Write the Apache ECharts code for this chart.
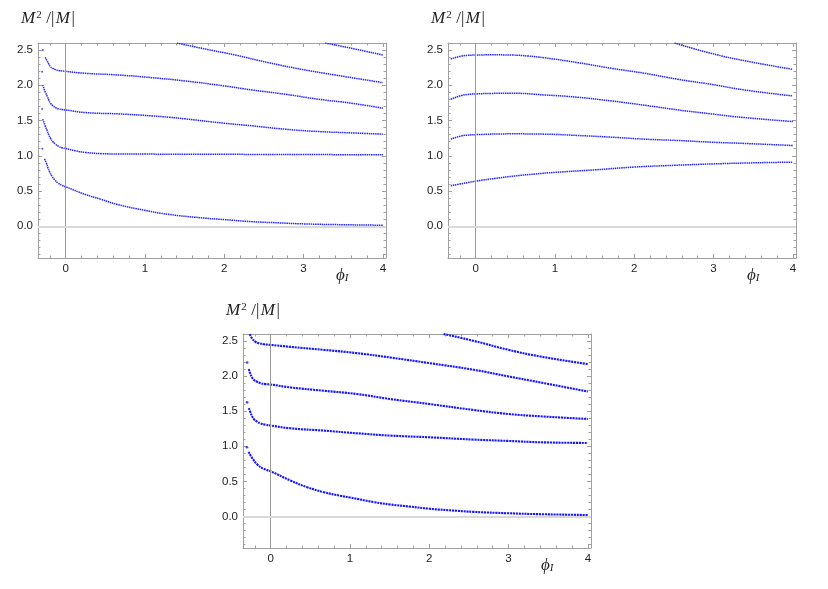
<!DOCTYPE html>
<html>
<head>
<meta charset="utf-8">
<script src="https://cdn.jsdelivr.net/npm/echarts@6/dist/echarts.min.js"></script>
<style>html,body{margin:0;padding:0;background:#fff}#c{width:828px;height:589px}</style>
</head>
<body>
<div id="c"></div>
<script>
// ---- tick values ----
const majorX = [0, 1, 2, 3, 4];
const minorX = [-0.2, 0.2, 0.4, 0.6, 0.8, 1.2, 1.4, 1.6, 1.8, 2.2, 2.4, 2.6, 2.8, 3.2, 3.4, 3.6, 3.8];
const majorY = [0, 0.5, 1.0, 1.5, 2.0, 2.5];
const minorY = [-0.4, -0.3, -0.2, -0.1, 0.1, 0.2, 0.3, 0.4, 0.6, 0.7, 0.8, 0.9, 1.1, 1.2, 1.3, 1.4, 1.6, 1.7, 1.8, 1.9, 2.1, 2.2, 2.3, 2.4];

// ---- panel 1 (top left) ----
const p1c1 = [[-0.294,1.10],[-0.269,0.958],[-0.244,0.896],[-0.223,0.825],[-0.202,0.769],[-0.172,0.708],[-0.139,0.66],[-0.097,0.613],[-0.046,0.58],[0,0.56],[0.25,0.45],[0.44,0.385],[0.65,0.31],[1.0,0.226],[1.29,0.17],[1.71,0.12],[2.0,0.095],[2.34,0.066],[2.7,0.048],[3.0,0.034],[3.5,0.022],[4.0,0.015]];
const p1c2 = [[-0.298,1.665],[-0.29,1.519],[-0.256,1.415],[-0.235,1.358],[-0.214,1.297],[-0.193,1.25],[-0.164,1.203],[-0.13,1.165],[-0.088,1.132],[-0.046,1.113],[0,1.104],[0.122,1.071],[0.248,1.047],[0.458,1.03],[0.668,1.025],[1.0,1.024],[1.5,1.022],[2.0,1.021],[2.5,1.019],[3.0,1.018],[3.5,1.016],[4.0,1.015]];
const p1c3 = [[-0.298,2.193],[-0.29,2.005],[-0.256,1.896],[-0.231,1.84],[-0.214,1.792],[-0.193,1.745],[-0.164,1.712],[-0.13,1.684],[-0.088,1.665],[-0.046,1.656],[0,1.65],[0.248,1.613],[0.668,1.594],[1.088,1.566],[1.298,1.547],[1.508,1.524],[2.0,1.462],[2.349,1.425],[2.769,1.377],[3.189,1.344],[3.609,1.325],[4.0,1.307]];
const p1c4 = [[-0.29,2.50],[-0.261,2.396],[-0.231,2.34],[-0.214,2.302],[-0.193,2.264],[-0.164,2.241],[-0.13,2.222],[-0.088,2.21],[-0.046,2.203],[0,2.198],[0.248,2.17],[0.668,2.146],[1.088,2.108],[1.508,2.061],[2.0,1.991],[2.349,1.934],[2.769,1.873],[3.189,1.802],[3.609,1.745],[4.0,1.675]];
const p1c5 = [[1.403,2.6],[1.718,2.524],[2.139,2.429],[2.559,2.321],[2.979,2.226],[3.399,2.146],[4.0,2.038]];
const p1c6 = [[3.273,2.6],[3.609,2.524],[4.0,2.43]];

// ---- panel 2 (top right) ----
const p2c1 = [[-0.315,0.575],[-0.2,0.60],[-0.1,0.62],[0,0.64],[0.25,0.68],[0.5,0.715],[0.75,0.742],[1.0,0.765],[1.5,0.80],[2.0,0.84],[2.5,0.865],[3.0,0.885],[3.5,0.90],[4.0,0.91]];
const p2c2 = [[-0.315,1.236],[-0.181,1.282],[-0.1,1.293],[0,1.30],[0.45,1.311],[0.87,1.307],[1.29,1.288],[1.71,1.264],[2.13,1.236],[2.55,1.217],[2.97,1.193],[3.39,1.175],[4.0,1.146]];
const p2c3 = [[-0.315,1.802],[-0.181,1.855],[-0.1,1.87],[0,1.877],[0.2,1.885],[0.45,1.887],[0.87,1.863],[1.29,1.83],[1.71,1.778],[2.13,1.717],[2.55,1.651],[2.97,1.594],[3.39,1.542],[4.0,1.486]];
const p2c4 = [[-0.315,2.373],[-0.181,2.415],[-0.1,2.425],[0,2.429],[0.2,2.432],[0.45,2.429],[0.66,2.415],[0.87,2.39],[1.29,2.321],[1.71,2.241],[2.13,2.17],[2.55,2.085],[2.97,2.014],[3.39,1.934],[4.0,1.849]];
const p2c5 = [[2.508,2.6],[2.97,2.453],[3.39,2.349],[4.0,2.226]];

// ---- panel 3 (bottom) ----
const p3c1 = [[-0.30,0.985],[-0.28,0.92],[-0.235,0.835],[-0.17,0.74],[-0.09,0.68],[0,0.643],[0.248,0.512],[0.458,0.417],[0.668,0.346],[0.878,0.295],[1.0,0.27],[1.298,0.205],[1.508,0.17],[1.76,0.14],[2.0,0.11],[2.35,0.08],[2.56,0.065],[3.0,0.045],[3.4,0.032],[4.0,0.02]];
const p3c2 = [[-0.298,1.626],[-0.277,1.545],[-0.256,1.483],[-0.235,1.427],[-0.214,1.389],[-0.172,1.351],[-0.13,1.327],[-0.067,1.308],[0,1.296],[0.248,1.256],[0.668,1.223],[1.088,1.185],[1.508,1.152],[2.0,1.128],[2.56,1.095],[3.0,1.076],[3.4,1.057],[4.0,1.047]];
const p3c3 = [[-0.298,2.194],[-0.277,2.10],[-0.256,2.028],[-0.235,1.981],[-0.214,1.948],[-0.172,1.919],[-0.13,1.90],[-0.067,1.886],[0,1.88],[0.248,1.839],[0.668,1.791],[1.088,1.744],[1.508,1.673],[2.0,1.602],[2.56,1.517],[3.0,1.46],[3.4,1.427],[4.0,1.389]];
const p3c4 = [[-0.265,2.597],[-0.235,2.536],[-0.193,2.488],[-0.151,2.469],[-0.088,2.455],[0,2.445],[0.248,2.417],[0.668,2.374],[1.088,2.327],[1.508,2.265],[2.0,2.185],[2.56,2.09],[3.0,1.995],[3.4,1.91],[4.0,1.78]];
const p3c5 = [[2.18,2.6],[2.56,2.502],[3.0,2.374],[3.4,2.28],[4.0,2.171]];

const panels = [
  [p1c1, p1c2, p1c3, p1c4, p1c5, p1c6],
  [p2c1, p2c2, p2c3, p2c4, p2c5],
  [p3c1, p3c2, p3c3, p3c4, p3c5]
];
// curves whose first sample sits apart from the rest (drawn as a lone dot)
const loneFirst = [
  [true, true, true, true, false, false],
  [false, false, false, false, false],
  [true, true, true, false, false]
];

const XMIN = -0.35, XMAX = 4.04, YMIN = -0.45, YMAX = 2.6;
const FRAME = '#a0a0a0';
const grids = [
  {left: 38, top: 43, width: 348, height: 215},
  {left: 448, top: 43, width: 348, height: 215},
  {left: 243, top: 334, width: 348, height: 214}
];
const curveStyles = [
  {width: 1.5, type: [1.5, 0.7], color: 'rgba(20,20,255,0.92)'},
  {width: 1.5, type: [1.5, 0.7], color: 'rgba(20,20,255,0.92)'},
  {width: 2.1, type: [2.1, 0.8], color: 'rgba(10,10,255,0.95)'}
];
const dotSizes = [2, 2, 2.6];

const xAxes = [], yAxes = [], series = [];
const labelStyle = {color: '#222', fontSize: 11.5, fontFamily: '"Liberation Sans", Arial, sans-serif'};

grids.forEach((g, gi) => {
  [['bottom', true], ['top', false]].forEach(([pos, lab]) => {
    xAxes.push({gridIndex: gi, type: 'value', min: XMIN, max: XMAX, position: pos,
      axisLine: {show: true, onZero: false, lineStyle: {color: FRAME, width: 1}},
      axisTick: {show: true, inside: true, length: 4, customValues: majorX, lineStyle: {color: FRAME}},
      axisLabel: lab ? Object.assign({show: true, margin: 5, customValues: majorX, formatter: v => String(v)}, labelStyle) : {show: false},
      splitLine: {show: false}});
    xAxes.push({gridIndex: gi, type: 'value', min: XMIN, max: XMAX, position: pos,
      axisLine: {show: false, onZero: false},
      axisTick: {show: true, inside: true, length: 2.5, customValues: minorX, lineStyle: {color: FRAME}},
      axisLabel: {show: false}, splitLine: {show: false}});
  });
  [['left', true], ['right', false]].forEach(([pos, lab]) => {
    yAxes.push({gridIndex: gi, type: 'value', min: YMIN, max: YMAX, position: pos,
      axisLine: {show: true, onZero: false, lineStyle: {color: FRAME, width: 1}},
      axisTick: {show: true, inside: true, length: 4, customValues: majorY, lineStyle: {color: FRAME}},
      axisLabel: lab ? Object.assign({show: true, margin: 5, customValues: majorY, formatter: v => v.toFixed(1)}, labelStyle) : {show: false},
      splitLine: {show: false}});
    yAxes.push({gridIndex: gi, type: 'value', min: YMIN, max: YMAX, position: pos,
      axisLine: {show: false, onZero: false},
      axisTick: {show: true, inside: true, length: 2.5, customValues: minorY, lineStyle: {color: FRAME}},
      axisLabel: {show: false}, splitLine: {show: false}});
  });
  // axes through origin
  series.push({type: 'line', xAxisIndex: gi * 4, yAxisIndex: gi * 4, data: [], z: 1, silent: true,
    markLine: {silent: true, symbol: 'none', label: {show: false}, animation: false,
      data: [
        {xAxis: 0, lineStyle: {color: '#999', width: 1, type: 'solid'}},
        {yAxis: 0, lineStyle: {color: '#d9d9d9', width: 2, type: 'solid'}}
      ]}});
  panels[gi].forEach((curve, ci) => {
    const lone = loneFirst[gi][ci];
    series.push({type: 'line', xAxisIndex: gi * 4, yAxisIndex: gi * 4, data: lone ? curve.slice(1) : curve,
      smooth: 0.5, showSymbol: false, symbol: 'none', z: 3,
      lineStyle: curveStyles[gi], clip: true, animation: false});
    if (lone) {
      series.push({type: 'scatter', xAxisIndex: gi * 4, yAxisIndex: gi * 4, data: curve.slice(0, 1),
        symbol: 'circle', symbolSize: dotSizes[gi], z: 3, silent: true, animation: false,
        itemStyle: {color: curveStyles[gi].color}});
    }
  });
});

const serif = '"Liberation Serif", "DejaVu Serif", serif';
function yTitle(x, y) {
  return {type: 'text', left: x, top: y, silent: true, style: {
    text: '{i|M}{sup|2}{n|/|}{i|M}{n||}',
    rich: {
      i: {fontFamily: serif, fontStyle: 'italic', fontSize: 17, fill: '#222'},
      sup: {fontFamily: serif, fontSize: 11, fill: '#222', verticalAlign: 'top', padding: [0, 3, 0, 1]},
      n: {fontFamily: serif, fontSize: 17, fill: '#222', padding: [0, 1.5, 0, 1.5]}
    }}};
}
function xTitle(x, y) {
  return {type: 'text', left: x, top: y, silent: true, style: {
    text: '{p|\u03D5}{s|I}',
    rich: {
      p: {fontFamily: serif, fontStyle: 'italic', fontSize: 17, fill: '#222'},
      s: {fontFamily: serif, fontStyle: 'italic', fontSize: 11, fill: '#222', verticalAlign: 'bottom'}
    }}};
}

const chart = echarts.init(document.getElementById('c'), null, {renderer: 'canvas'});
chart.setOption({
  animation: false,
  backgroundColor: '#fff',
  grid: grids,
  xAxis: xAxes,
  yAxis: yAxes,
  series: series,
  graphic: [
    yTitle(21, 10), yTitle(431, 10), yTitle(226, 302),
    xTitle(336, 267), xTitle(747, 267), xTitle(541, 557)
  ]
});
</script>
</body>
</html>
